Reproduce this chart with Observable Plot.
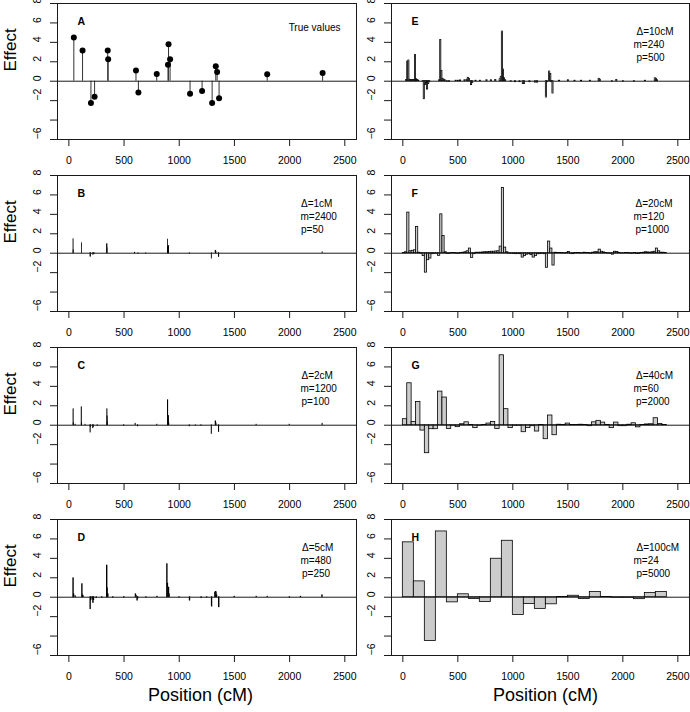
<!DOCTYPE html>
<html><head><meta charset="utf-8">
<script src="https://cdn.jsdelivr.net/npm/d3@7"></script>
<script src="https://cdn.jsdelivr.net/npm/@observablehq/plot@0.6"></script>
<style>
body{margin:0;background:#fff;}
#wrap{position:relative;width:690px;height:712px;overflow:hidden;background:#fff;}
.cell{position:absolute;}
</style></head><body><div id="wrap"></div>
<script>
// ---------- data ----------
const xTicks = [0, 500, 1000, 1500, 2000, 2500];
const yTicks = [-6, -4, -2, 0, 2, 4, 6, 8];
const yTickLabels = ["−6", "", "−2", "0", "2", "4", "6", "8"];

// Panel A: true QTL effects
const posA = [45, 124, 200, 233, 352, 356, 608, 630, 796, 898, 903, 917, 1098, 1207, 1298, 1331, 1343, 1361, 1797, 2299];
const effA = [4.5, 3.15, -2.25, -1.6, 3.15, 2.25, 1.1, -1.15, 0.75, 1.7, 3.8, 2.25, -1.3, -1.0, -2.25, 1.55, 0.95, -1.75, 0.72, 0.85];

// Panel H: 100 cM bins (24)
const deltaH = 100;
const valuesH = [5.65, 1.63, -4.5, 6.77, -0.53, 0.3, -0.18, -0.5, 3.96, 5.81, -1.83, -0.7, -1.2, -0.73, 0.02, 0.15, -0.18, 0.53, 0.03, -0.06, -0.06, -0.2, 0.43, 0.53];

// Panel G: 40 cM bins (60)
const deltaG = 40;
const valuesG = [0.62, 4.32, 0.34, 2.4, -0.55, -2.88, -0.41, -0.41, 3.46, 2.85,
  -0.38, -0.05, -0.2, 0.1, 0.3, 0.02, -0.3, -0.05, 0.03, 0.17,
  0.34, -0.38, 7.2, 1.65, -0.3, -0.05, -0.05, -0.72, -0.3, -0.1,
  -0.65, 0.02, -1.44, 1.0, -1.03, 0.05, 0.02, 0.17, 0.03, 0.02,
  0.05, 0.02, -0.1, 0.3, 0.45, 0.27, 0.02, -0.3, 0.27, -0.1,
  -0.1, 0.05, 0.2, -0.22, 0.03, 0.08, 0.1, 0.72, 0.12, 0.03];

// Panel F: 20 cM bins (120)
const deltaF = 20;
const valuesF = [0.03, 0.1, 4.18, 0.2, 0.25, 0.3, 2.7, 0.05, -0.05, -0.3,
  -2.0, -0.72, -0.55, -0.1, -0.05, -0.05, -0.27, 4.0, 1.78, 0.1,
  -0.08, -0.05, 0.02, 0.02, -0.05, -0.05, 0.03, 0.05, 0.1, 0.2,
  0.48, -0.48, -0.1, 0.05, 0.05, 0.05, 0.08, 0.1, 0.1, 0.12,
  0.15, 0.15, 0.18, 0.2, 0.68, 6.71, 0.58, 0.1, -0.05, -0.05,
  -0.08, -0.1, -0.08, -0.1, -0.45, -0.3, -0.15, -0.1, -0.2, -0.45,
  -0.3, -0.1, -0.1, -0.05, -0.1, -1.5, 1.2, 0.48, -1.27, 0.05,
  0.02, 0.02, 0.03, -0.03, 0.03, 0.12, -0.05, -0.1, 0.02, 0.03,
  0.02, -0.03, 0.05, 0.03, 0.02, -0.05, 0.05, 0.1, 0.1, 0.37,
  0.15, 0.08, 0.03, -0.03, -0.05, -0.15, 0.15, 0.12, 0.02, -0.03,
  -0.02, 0.03, 0.02, -0.05, -0.05, 0.02, -0.08, -0.08, 0.02, 0.05,
  0.1, 0.08, 0.05, 0.1, 0.15, 0.48, 0.2, 0.05, 0.05, 0.02];

// Panel E: 10 cM bins (240), non-zero bins [start, value]
const deltaE = 10;
const binsE = [[30,0.12],[40,2.02],[50,2.13],[60,0.15],[70,0.12],[80,0.1],[90,0.12],[100,0.12],[110,2.71],[120,0.2],[130,0.12],[140,0.05],
  [180,-0.05],[190,-1.85],[200,-0.4],[210,-0.2],[220,-0.86],[230,-0.3],[240,-0.1],[330,0.1],[340,4.25],[350,1.06],[360,0.25],[370,0.15],[380,0.1],
  [400,-0.05],[420,-0.05],[480,0.05],[500,0.05],[520,0.08],[560,0.1],[580,0.15],[590,0.35],[600,0.25],[620,-0.4],[630,-0.2],[660,0.05],[700,0.05],
  [760,0.1],[800,0.1],[840,0.12],[880,0.2],[890,0.45],[900,5.11],[910,1.2],[920,0.3],[930,0.1],[980,-0.05],[1020,-0.1],[1060,-0.1],[1090,-0.3],
  [1100,-0.3],[1150,-0.1],[1200,-0.15],[1220,-0.15],[1300,-1.68],[1310,-0.1],[1330,1.0],[1340,0.75],[1350,-0.1],[1360,-1.27],[1420,0.05],
  [1500,0.1],[1560,0.05],[1620,0.05],[1700,0.05],[1780,0.25],[1790,0.15],[1900,-0.05],[1940,0.12],[2000,-0.05],[2100,-0.05],[2200,0.05],
  [2290,0.3],[2300,0.25],[2310,0.1]];

// Panel D: 5 cM bins (480)
const deltaD = 5;
const binsD = [[40,1.95],[45,0.3],[60,0.1],[120,1.34],[125,0.2],[130,0.1],[195,-1.23],[200,-0.3],[215,-0.2],[220,-0.6],[225,-0.3],[250,-0.1],
  [300,-0.05],[345,3.25],[350,0.92],[355,0.3],[400,-0.05],[500,-0.05],[605,0.3],[610,0.15],[620,-0.35],[625,-0.15],[700,-0.05],[800,0.05],
  [890,3.4],[895,1.4],[900,1.0],[905,0.95],[910,0.3],[1000,-0.05],[1095,-0.35],[1200,-0.1],[1250,-0.05],[1295,-0.96],[1325,0.45],[1330,0.55],
  [1335,0.5],[1340,0.2],[1360,-1.03],[1500,0.05],[1700,0.05],[1800,0.05],[2000,-0.05],[2100,0.05],[2295,0.2]];

// Panel C: 2 cM bins (1200)
const deltaC = 2;
const binsC = [[42,1.64],[44,0.2],[60,0.05],[116,1.85],[118,0.2],[150,0.05],[196,-0.75],[198,-0.2],[220,-0.3],[224,-0.2],[260,-0.05],
  [348,1.64],[350,0.9],[352,0.3],[500,-0.05],[604,0.15],[626,-0.12],[800,0.05],[898,2.57],[900,0.96],[902,0.96],[904,0.9],[906,0.5],[908,0.2],
  [1094,-0.12],[1150,-0.05],[1200,-0.05],[1294,-0.9],[1330,0.4],[1332,0.35],[1334,0.25],[1336,0.1],[1360,-0.7],[1700,0.05],[2000,0.05],[2298,0.15]];

// Panel B: 1 cM bins (2400)
const deltaB = 1;
const binsB = [[42,1.44],[43,0.3],[118,1.03],[197,-0.4],[198,-0.3],[220,-0.15],[226,-0.12],[232,-0.1],[347,0.92],[348,0.9],[349,0.5],
  [600,0.05],[630,-0.07],[700,-0.03],[898,1.4],[899,0.6],[903,0.72],[905,0.72],[907,0.7],[1095,-0.06],[1295,-0.55],[1330,0.25],[1333,0.2],
  [1336,0.15],[1361,-0.38],[2299,0.1]];

const notesB = ["Δ=1cM", "m=2400", "p=50"];
const notesC = ["Δ=2cM", "m=1200", "p=100"];
const notesD = ["Δ=5cM", "m=480", "p=250"];
const notesE = ["Δ=10cM", "m=240", "p=500"];
const notesF = ["Δ=20cM", "m=120", "p=1000"];
const notesG = ["Δ=40cM", "m=60", "p=2000"];
const notesH = ["Δ=100cM", "m=24", "p=5000"];

// ---------- drawing ----------
const FONT = '"Liberation Sans", Arial, Helvetica, sans-serif';
const INK = "#1a1a1a";
const wrap = document.getElementById("wrap");

function barMarks(bins, delta) {
  const data = bins.map(([start, value]) => ({start, value}));
  return [Plot.rect(data, {x1: "start", x2: d => d.start + delta, y1: 0, y2: "value",
    fill: "#cccccc", stroke: "black", strokeWidth: 0.8})];
}
function dense(values, delta) { return values.map((v, i) => [i * delta, v]); }

function panel({col, row, letter, content, notes, noteShift, trueLabel}) {
  const left = col === 0 ? 0 : 334;
  const width = col === 0 ? 370 : 356;
  const mr = col === 0 ? 14 : 1;
  const top = 172 * row;
  const height = row === 3 ? 712 - top : 172;
  const marks = [
    ...content,
    Plot.ruleY([0], {stroke: INK, strokeWidth: 1}),
    Plot.frame({stroke: INK, strokeWidth: 1}),
    Plot.axisX({ticks: xTicks, tickSize: 7, tickPadding: 10, tickFormat: d => String(d), label: null, stroke: INK, fill: "black", fontSize: 10.5}),
    Plot.axisY({ticks: yTicks, tickSize: 7, label: null, stroke: INK, fill: "none"}),
    Plot.text(yTicks, {y: d => d, text: (d, i) => yTickLabels[i], frameAnchor: "left", dx: -20, rotate: -90, fontSize: 10.5, fill: "black"}),
    Plot.text([letter], {frameAnchor: "top-left", dx: 20, dy: 14.5, fontWeight: "bold", fontSize: 10.5, fill: "black"})
  ];
  if (notes) {
    notes.forEach((t, i) => {
      marks.push(Plot.text([t], {frameAnchor: "top-right", textAnchor: "start", dx: -56 + (i === 1 ? 0 : noteShift), dy: 24 + 13 * i, fontSize: 10, fill: "black"}));
    });
  }
  if (trueLabel) marks.push(Plot.text([trueLabel], {frameAnchor: "top-right", textAnchor: "end", dx: -16, dy: 20, fontSize: 10, fill: "black"}));
  if (col === 0) marks.push(Plot.text(["Effect"], {frameAnchor: "left", dx: -47, rotate: -90, fontSize: 17, fill: "black"}));
  if (row === 3) marks.push(Plot.text(["Position (cM)"], {frameAnchor: "bottom", dy: 45, dx: col === 0 ? -6.5 : 5, fontSize: 18, fill: "black"}));

  const chart = Plot.plot({
    width, height,
    marginLeft: 57, marginRight: mr, marginTop: 3, marginBottom: height - 139,
    x: {domain: [-103, 2606]},
    y: {domain: [-6, 8]},
    style: {background: "transparent", fontFamily: FONT, fontSize: "10.5px", color: "black", overflow: "visible"},
    marks
  });
  const div = document.createElement("div");
  div.className = "cell";
  div.style.left = left + "px";
  div.style.top = top + "px";
  div.style.width = width + "px";
  div.appendChild(chart);
  wrap.appendChild(div);
}

const idxA = posA.map((_, i) => i);
panel({col: 0, row: 0, letter: "A", trueLabel: "True values", content: [
  Plot.ruleX(idxA, {x: i => posA[i], y1: 0, y2: i => effA[i], stroke: "#333", strokeWidth: 1}),
  Plot.dot(idxA, {x: i => posA[i], y: i => effA[i], r: 3, fill: "black"})
]});
panel({col: 0, row: 1, letter: "B", notes: notesB, noteShift: 0.5, content: barMarks(binsB, deltaB)});
panel({col: 0, row: 2, letter: "C", notes: notesC, noteShift: 1, content: barMarks(binsC, deltaC)});
panel({col: 0, row: 3, letter: "D", notes: notesD, noteShift: 1.5, content: barMarks(binsD, deltaD)});
panel({col: 1, row: 0, letter: "E", notes: notesE, noteShift: 3, content: barMarks(binsE, deltaE)});
panel({col: 1, row: 1, letter: "F", notes: notesF, noteShift: 2, content: barMarks(dense(valuesF, deltaF), deltaF)});
panel({col: 1, row: 2, letter: "G", notes: notesG, noteShift: 2.5, content: barMarks(dense(valuesG, deltaG), deltaG)});
panel({col: 1, row: 3, letter: "H", notes: notesH, noteShift: 3, content: barMarks(dense(valuesH, deltaH), deltaH)});
</script></body></html>
